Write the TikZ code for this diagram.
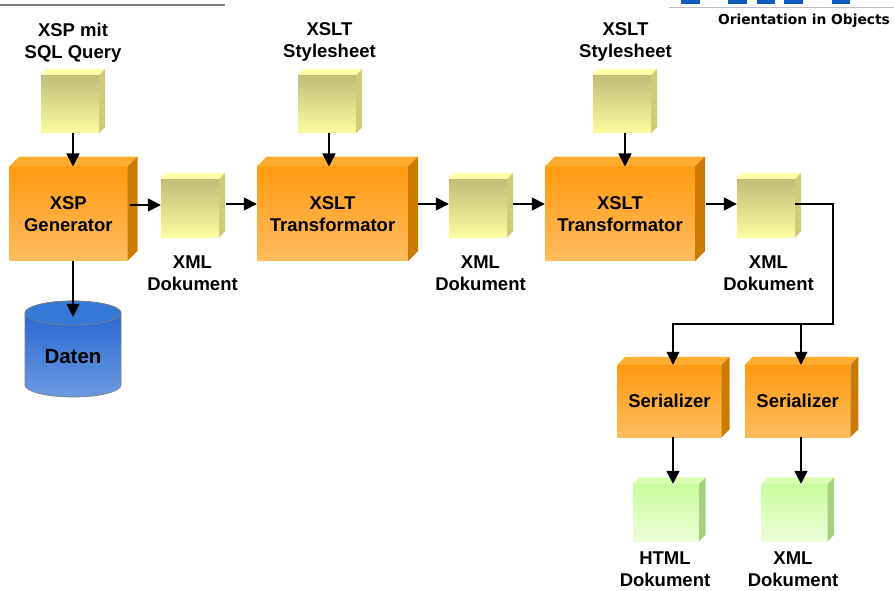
\documentclass[tikz,border=0pt]{standalone}
\usepackage{fontspec}
\setmainfont{Liberation Sans}
\newfontfamily\logofont{DejaVu Sans}
\usetikzlibrary{arrows.meta}

\definecolor{orangeface}{HTML}{FF9A10}
\definecolor{orangelight}{HTML}{FFBC60}
\definecolor{orangetop}{HTML}{FFAC30}
\definecolor{orangeside}{HTML}{CC7A00}
\definecolor{yellowdark}{HTML}{C0BD78}
\definecolor{yellowlight}{HTML}{FDFCA0}
\definecolor{yellowtop}{HTML}{FFFFA8}
\definecolor{yellowside}{HTML}{CFCC78}
\definecolor{greenface}{HTML}{C8FD9C}
\definecolor{greenlight}{HTML}{ECFED8}
\definecolor{greentop}{HTML}{D8FFB4}
\definecolor{greenside}{HTML}{A9CF80}
\definecolor{bluedark}{HTML}{2060D0}
\definecolor{bluelight}{HTML}{6A9AE0}
\definecolor{bluetop}{HTML}{3478D8}
\definecolor{logoblue}{HTML}{0F5CC0}

% top and side face of a box, drawn from its front node
\newcommand{\boxfaces}[4]{%
  \fill[#3] (#1.north west) -- ([xshift=#2pt,yshift=#2pt]#1.north west) -- ([xshift=#2pt,yshift=#2pt]#1.north east) -- (#1.north east) -- cycle;
  \fill[#4] (#1.north east) -- ([xshift=#2pt,yshift=#2pt]#1.north east) -- ([xshift=#2pt,yshift=#2pt]#1.south east) -- (#1.south east) -- cycle;
}

\begin{document}
\begin{tikzpicture}[x=1pt,y=-1pt,
    front/.style ={inner sep=0pt, align=center, font=\fontsize{18.5}{22}\selectfont\bfseries},
    generator/.style ={front, top color=orangeface, bottom color=orangelight},
    document/.style ={front, minimum width=58pt, minimum height=58pt, top color=yellowdark, bottom color=yellowlight},
    result/.style ={front, minimum width=66pt, minimum height=57pt, top color=greenface, bottom color=greenlight},
    caption/.style ={align=center, inner sep=0pt, font=\fontsize{18.5}{22}\selectfont\bfseries},
    flow/.style ={line width=1.7pt, -{Triangle[length=13pt,width=13pt]}}]
   \useasboundingbox (0,0) rectangle (894,591);

   % header rule and logo
   \draw[line width=1.5pt, gray] (0,5) -- (225,5);
   \draw[line width=0.7pt, lightgray] (669,7) -- (894,7);
   \fill[logoblue] (681,0) rectangle (700,4);
   \fill[logoblue] (728,0) rectangle (747,4);
   \fill[logoblue] (757,0) rectangle (775,4);
   \fill[logoblue] (784,0) rectangle (803,4);
   \fill[logoblue] (832,0) rectangle (850,4);
   \node[inner sep=0pt, font=\logofont\fontsize{13.8}{16}\selectfont\bfseries] (logo) at (804,20.5) {Orientation in Objects};

   % inputs
   \node[document] (query) at (70,104) {};
   \node[document] (sheetA) at (327,104) {};
   \node[document] (sheetB) at (622,104) {};
   \node[caption] (queryText) at (73,42.5) {XSP mit\\SQL Query};
   \node[caption] (sheetAText) at (329.5,42) {XSLT\\Stylesheet};
   \node[caption] (sheetBText) at (625.5,42) {XSLT\\Stylesheet};

   % processing steps
   \node[generator, minimum width=118pt, minimum height=94pt] (gen) at (68.3,213.7) {XSP\\Generator};
   \node[generator, minimum width=151pt, minimum height=94pt] (transA) at (332.5,213.7) {XSLT\\Transformator};
   \node[generator, minimum width=150pt, minimum height=94pt] (transB) at (620,213.7) {XSLT\\Transformator};
   \node[generator, minimum width=104pt, minimum height=72pt] (serA) at (669.5,401) {Serializer};
   \node[generator, minimum width=105pt, minimum height=72pt] (serB) at (797.6,401) {Serializer};

   % intermediate documents
   \node[document] (docA) at (190,208) {};
   \node[document] (docB) at (478,208) {};
   \node[document] (docC) at (766,208) {};
   \node[caption] (docAText) at (192.5,273) {XML\\Dokument};
   \node[caption] (docBText) at (480.5,273) {XML\\Dokument};
   \node[caption] (docCText) at (768.5,273) {XML\\Dokument};

   % output documents
   \node[result] (outA) at (666,512.5) {};
   \node[result] (outB) at (794.5,512.5) {};
   \node[caption] (outAText) at (665,569) {HTML\\Dokument};
   \node[caption] (outBText) at (793,569) {XML\\Dokument};

   % faces
   \boxfaces{query}{6}{yellowtop}{yellowside}
   \boxfaces{sheetA}{6}{yellowtop}{yellowside}
   \boxfaces{sheetB}{6}{yellowtop}{yellowside}
   \boxfaces{docA}{6}{yellowtop}{yellowside}
   \boxfaces{docB}{6}{yellowtop}{yellowside}
   \boxfaces{docC}{6}{yellowtop}{yellowside}
   \boxfaces{gen}{10}{orangetop}{orangeside}
   \boxfaces{transA}{10}{orangetop}{orangeside}
   \boxfaces{transB}{10}{orangetop}{orangeside}
   \boxfaces{serA}{8}{orangetop}{orangeside}
   \boxfaces{serB}{8}{orangetop}{orangeside}
   \boxfaces{outA}{6.5}{greentop}{greenside}
   \boxfaces{outB}{6.5}{greentop}{greenside}

   % database
   \shade[top color=bluedark, bottom color=bluelight, draw=gray, line width=0.7pt]
      (25,313) -- (25,385) arc[start angle=180, end angle=360, x radius=48pt, y radius=12pt]
      -- (121,313) arc[start angle=0, end angle=180, x radius=48pt, y radius=12pt];
   \draw[fill=bluetop, draw=gray, line width=0.7pt] (73,313) ellipse[x radius=48pt, y radius=12pt];
   \node[caption, font=\fontsize{20.5}{24}\selectfont\bfseries, minimum width=96pt, minimum height=80pt] (daten) at (73,357) {Daten};

   % connectors
   \coordinate (turn) at (833,324);
   \coordinate (split) at (801,324);
   \draw[flow] ([xshift=3pt]query.south) -- ([xshift=4.7pt]gen.north);
   \draw[flow] ([xshift=2pt]sheetA.south) -- ([xshift=-3.5pt]transA.north);
   \draw[flow] ([xshift=3pt]sheetB.south) -- ([xshift=5pt]transB.north);
   \draw[flow] ([xshift=4.7pt]gen.south) -- (daten.north);
   \draw[flow] ([xshift=2pt,yshift=8.7pt]gen.east) -- ([yshift=3pt]docA.west);
   \draw[flow] ([xshift=7pt,yshift=4pt]docA.east) -- ([yshift=9.7pt]transA.west);
   \draw[flow] ([xshift=10pt,yshift=9.7pt]transA.east) -- ([yshift=4pt]docB.west);
   \draw[flow] ([xshift=6pt,yshift=4pt]docB.east) -- ([yshift=9.7pt]transB.west);
   \draw[flow] ([xshift=11pt,yshift=9.7pt]transB.east) -- ([yshift=4pt]docC.west);
   \draw[line width=1.7pt] ([yshift=4pt]docC.east) -| (turn) -- (split);
   \draw[flow] (split) -| ([xshift=3.5pt]serA.north);
   \draw[flow] (split) -- ([xshift=3.4pt]serB.north);
   \draw[flow] ([xshift=3.5pt]serA.south) -- ([xshift=7pt]outA.north);
   \draw[flow] ([xshift=3.4pt]serB.south) -- ([xshift=6.5pt]outB.north);
\end{tikzpicture}
\end{document}
